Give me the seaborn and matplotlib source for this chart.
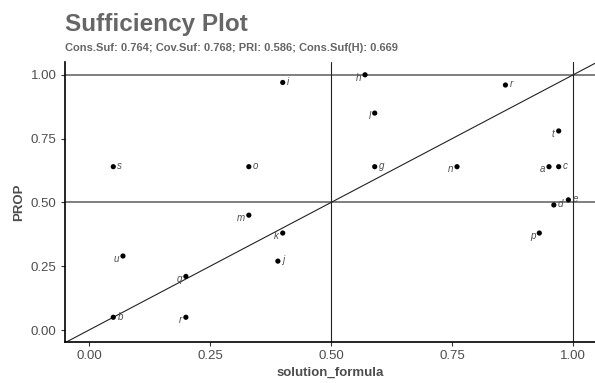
import matplotlib
matplotlib.use("Agg")
import matplotlib.pyplot as plt
import seaborn as sns
import pandas as pd

cases = ["s", "o", "i", "h", "r", "l", "g", "n", "t", "a", "c", "d", "e",
         "p", "m", "k", "j", "u", "q", "b", "r"]
solution_formula = [0.05, 0.33, 0.40, 0.57, 0.86, 0.59, 0.59, 0.76, 0.97, 0.95,
                    0.97, 0.96, 0.99, 0.93, 0.33, 0.40, 0.39, 0.07, 0.20, 0.05, 0.20]
prop = [0.64, 0.64, 0.97, 1.00, 0.96, 0.85, 0.64, 0.64, 0.78, 0.64,
        0.64, 0.49, 0.51, 0.38, 0.45, 0.38, 0.27, 0.29, 0.21, 0.05, 0.05]
# label side: 1 = right of point, -1 = left/below of point
label_side = [1, 1, 1, -1, 1, -1, 1, -1, -1, -1, 1, 1, 1, -1, -1, -1, 1, -1, -1, 1, -1]

title = "Sufficiency Plot"
subtitle = "Cons.Suf: 0.764; Cov.Suf: 0.768; PRI: 0.586; Cons.Suf(H): 0.669"
xticks = [0.0, 0.25, 0.5, 0.75, 1.0]
yticks = [0.0, 0.25, 0.5, 0.75, 1.0]

df = pd.DataFrame({"solution_formula": solution_formula, "PROP": prop,
                   "case": cases, "side": label_side})

sns.set_theme(style="white")
plt.rcParams["font.family"] = ["Liberation Sans", "DejaVu Sans"]

fig = plt.figure(figsize=(5.95, 3.83), dpi=100)
ax = fig.add_axes([0.109, 0.107, 0.891, 0.731])

xlo, xhi = -0.05, 1.045
ylo, yhi = -0.047, 1.05
ax.set_xlim(xlo, xhi)
ax.set_ylim(ylo, yhi)

ax.axhline(0.5, color="#7f7f7f", lw=1.4, zorder=1)
ax.axhline(1.0, color="#7f7f7f", lw=1.4, zorder=1)
ax.axvline(0.5, color="#222222", lw=0.8, zorder=1)
ax.axvline(1.0, color="#222222", lw=0.8, zorder=1)
ax.plot([xlo, xhi], [xlo, xhi], color="#222222", lw=0.8, zorder=1)

sns.scatterplot(data=df, x="solution_formula", y="PROP", ax=ax, color="black",
                s=14, edgecolor="none", zorder=3, legend=False)

for _, row in df.iterrows():
    if row["side"] > 0:
        ax.annotate(row["case"], (row["solution_formula"], row["PROP"]),
                    xytext=(3, 0.5), textcoords="offset points", ha="left", va="center",
                    fontsize=7, style="italic", color="#4d4d4d", zorder=4)
    else:
        ax.annotate(row["case"], (row["solution_formula"], row["PROP"]),
                    xytext=(-3, -2), textcoords="offset points", ha="right", va="center",
                    fontsize=7, style="italic", color="#4d4d4d", zorder=4)

ax.set_xticks(xticks)
ax.set_yticks(yticks)
ax.set_xticklabels([f"{v:.2f}" for v in xticks])
ax.set_yticklabels([f"{v:.2f}" for v in yticks])
ax.tick_params(axis="both", which="both", length=3, width=0.8, color="#333333",
               labelsize=9.5, labelcolor="#4d4d4d", pad=3, direction="out",
               bottom=True, left=True)

for side in ["top", "right"]:
    ax.spines[side].set_visible(False)
for side in ["left", "bottom"]:
    ax.spines[side].set_color("black")
    ax.spines[side].set_linewidth(1.2)

ax.set_xlabel("solution_formula", fontsize=9.5, fontweight="bold", color="#4d4d4d", labelpad=3)
ax.set_ylabel("PROP", fontsize=9.5, fontweight="bold", color="#4d4d4d", labelpad=4)

fig.text(0.109, 0.935, title, fontsize=17.5, fontweight="bold", color="#666666",
         ha="left", va="center")
fig.text(0.109, 0.874, subtitle, fontsize=8, fontweight="bold", color="#666666",
         ha="left", va="center")

fig.savefig("out.png", dpi=100)
